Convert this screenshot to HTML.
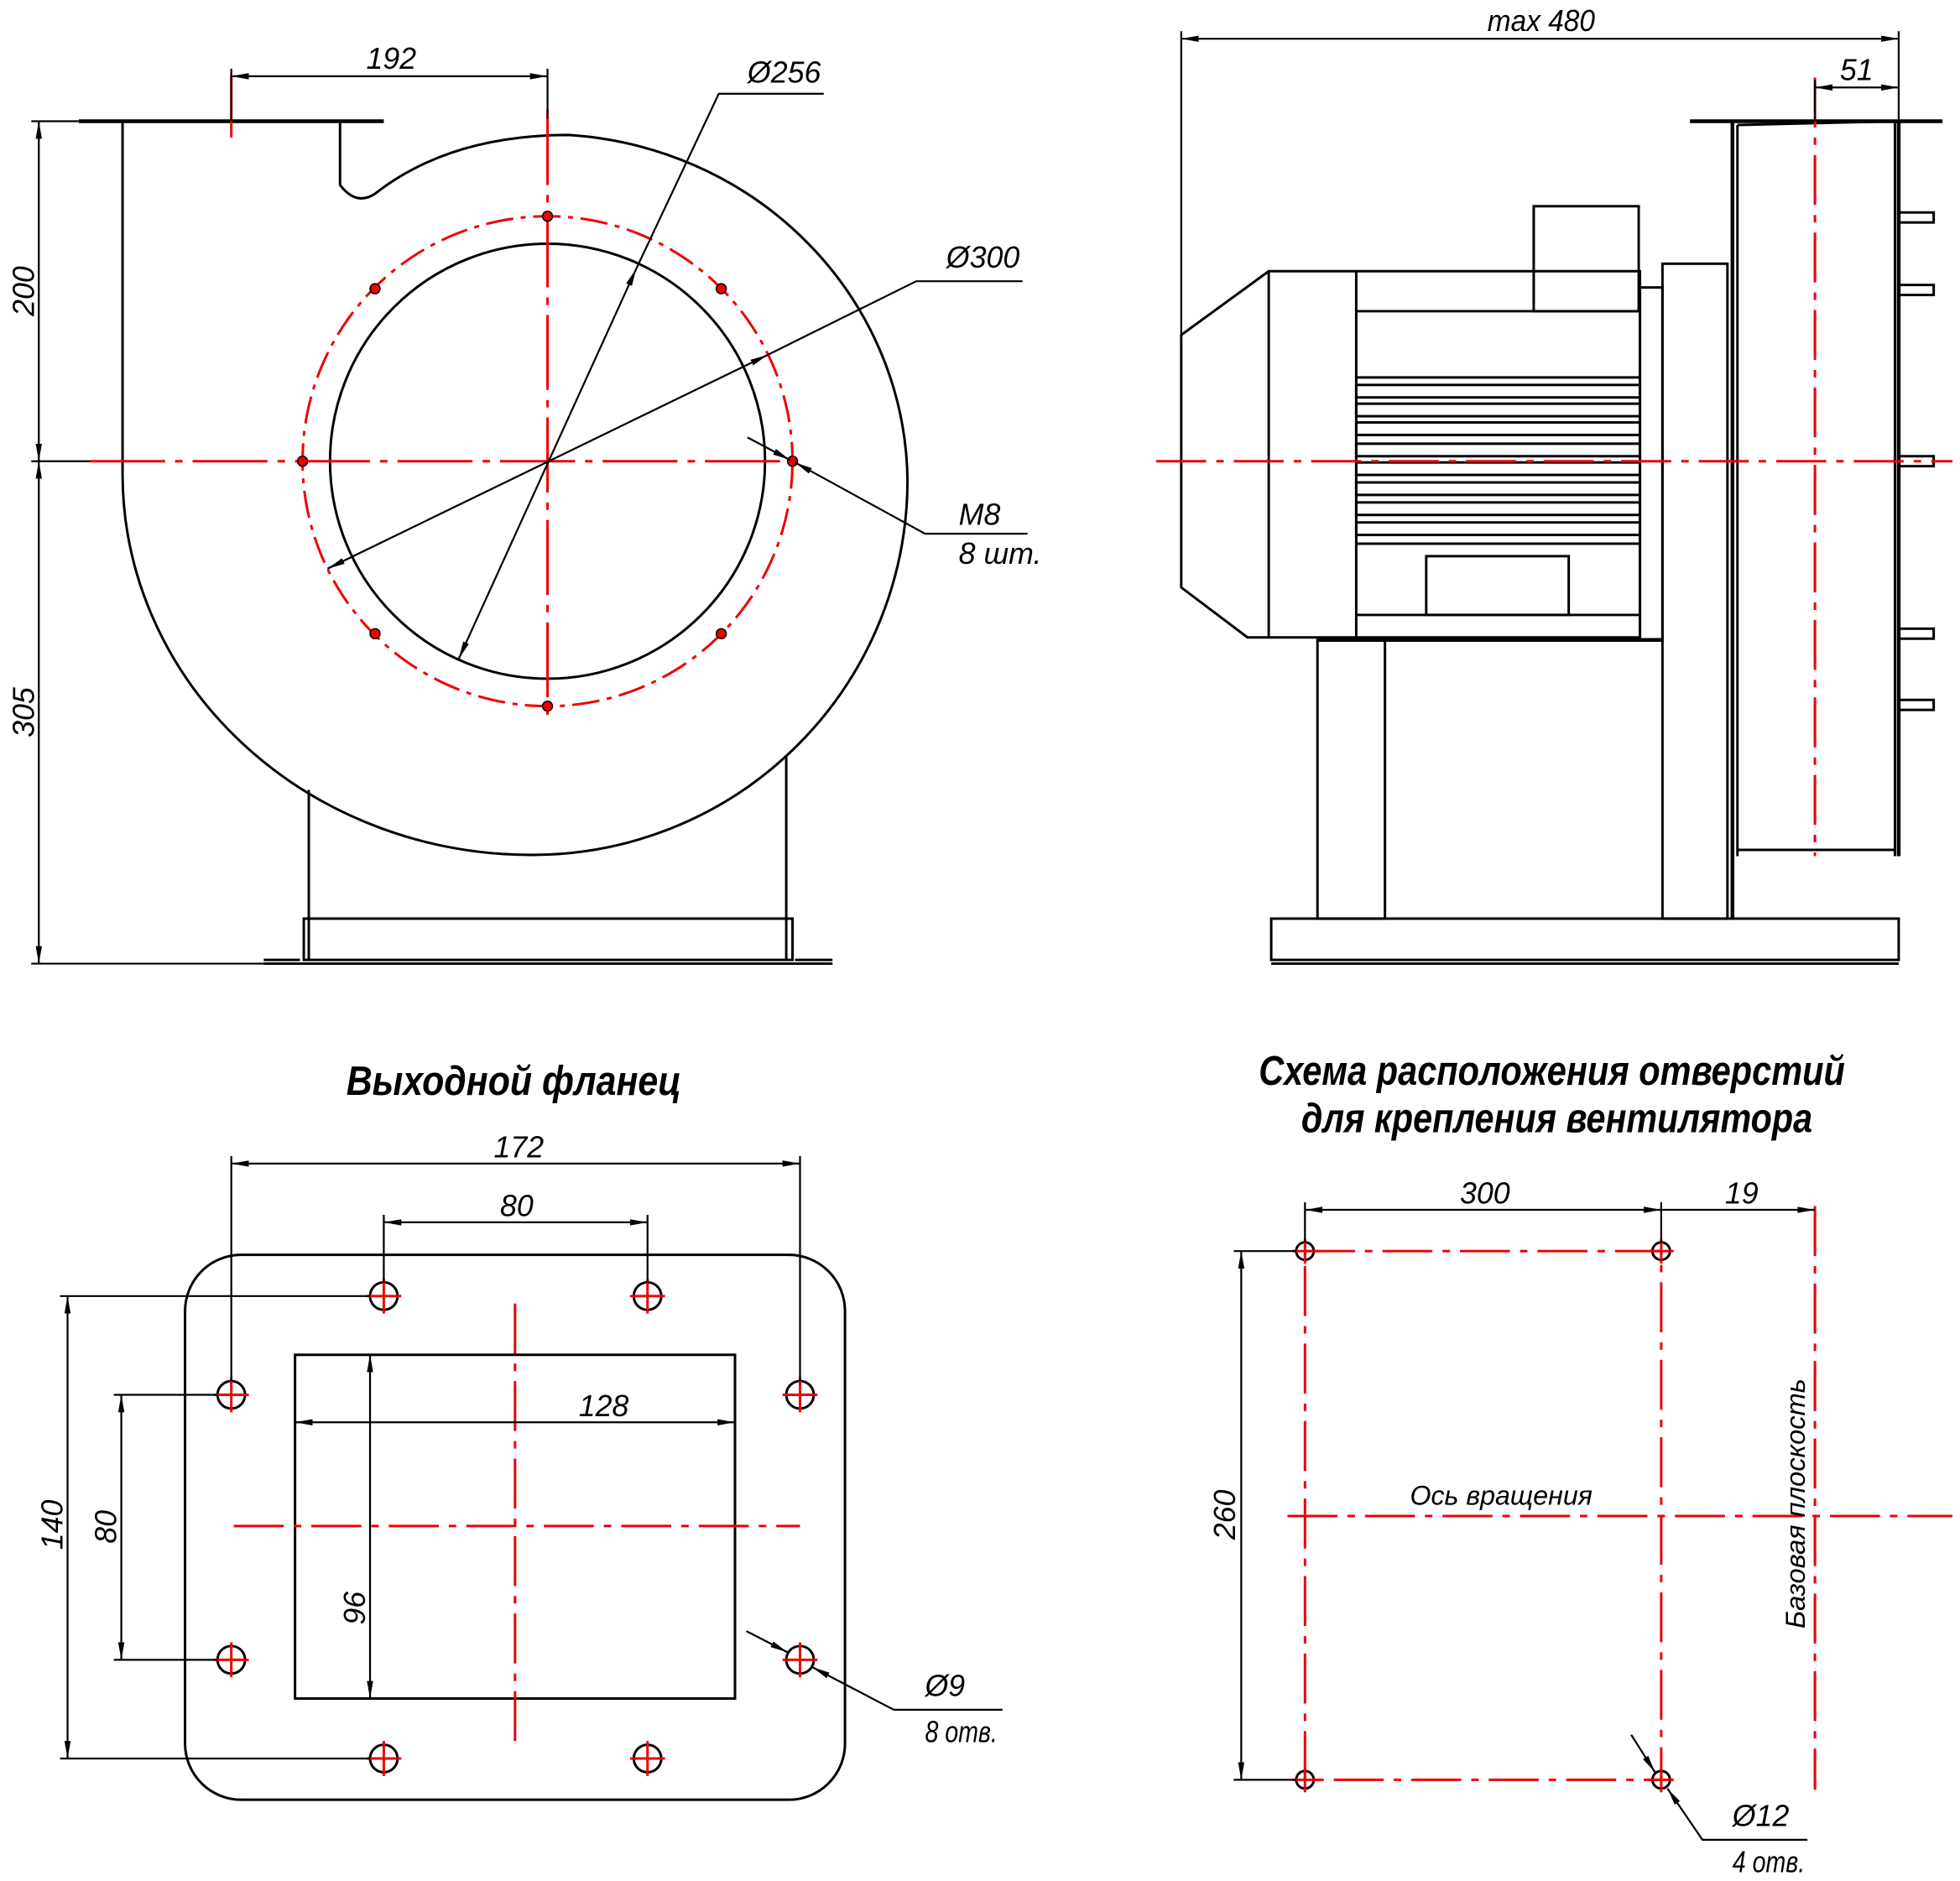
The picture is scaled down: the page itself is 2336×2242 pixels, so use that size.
<!DOCTYPE html>
<html><head><meta charset="utf-8"><style>
html,body{margin:0;padding:0;background:#fff}
svg{display:block}
text{font-family:"Liberation Sans Narrow","Liberation Sans",sans-serif;font-style:italic;fill:#000}
</style></head><body>
<svg width="2336" height="2242" viewBox="0 0 1568 1505" xmlns="http://www.w3.org/2000/svg">
<defs>
<marker id="a" viewBox="0 0 14 6" refX="14" refY="3" markerWidth="14" markerHeight="6" orient="auto-start-reverse" markerUnits="userSpaceOnUse"><path d="M0,0.5 L14,3 L0,5.5 z" fill="#000"/></marker>
</defs>
<g fill="none" stroke="#000" stroke-width="2">
<line x1="63" y1="97" x2="307" y2="97" stroke-width="3"/>
<path d="M98,97 L98,380 A327 305 0 0 0 425,684 A300 300 0 0 0 726,385 A290 280 0 0 0 455,108 Q360,108 300,155 Q285,165 272,148 L272,97"/>
<circle cx="438" cy="369" r="174"/>
<line x1="247" y1="632" x2="247" y2="768"/><line x1="629" y1="604" x2="629" y2="768"/>
<rect x="243" y="735" width="391" height="33"/>
<path d="M211,771 L666,771 M211,768 L240,768 M636,768 L666,768" />
</g>
<g stroke="#e00" stroke-width="2" fill="none">
<circle cx="438" cy="369" r="196" stroke-dasharray="22 6 4 6"/>
<line x1="72" y1="369" x2="635" y2="369" stroke-dasharray="60 8 6 8"/>
<line x1="438" y1="88" x2="438" y2="575" stroke-dasharray="60 8 6 8"/>
<line x1="185" y1="60" x2="185" y2="110"/>
</g>
<g fill="#e00" stroke="#000" stroke-width="1">
<circle cx="438" cy="173" r="4"/><circle cx="438" cy="565" r="4"/><circle cx="242" cy="369" r="4"/><circle cx="634" cy="369" r="4"/>
<circle cx="300" cy="231" r="4"/><circle cx="577" cy="231" r="4"/><circle cx="300" cy="507" r="4"/><circle cx="577" cy="507" r="4"/>
</g>
<g stroke="#000" stroke-width="1.5" fill="none">
<line x1="185" y1="61" x2="438" y2="61" marker-start="url(#a)" marker-end="url(#a)"/>
<line x1="185" y1="55" x2="185" y2="97"/><line x1="438" y1="55" x2="438" y2="95"/>
<line x1="25" y1="97" x2="63" y2="97"/><line x1="25" y1="369" x2="72" y2="369"/><line x1="25" y1="771" x2="211" y2="771"/>
<line x1="31" y1="97" x2="31" y2="369" marker-start="url(#a)" marker-end="url(#a)"/>
<line x1="31" y1="369" x2="31" y2="771" marker-start="url(#a)" marker-end="url(#a)"/>
<line x1="367" y1="527" x2="509" y2="215" marker-start="url(#a)" marker-end="url(#a)"/>
<polyline points="509,215 575,75 659,75"/>
<line x1="262" y1="455" x2="614" y2="284" marker-start="url(#a)" marker-end="url(#a)"/>
<polyline points="614,284 733,225 818,225"/>
<line x1="598" y1="350" x2="632" y2="368" marker-end="url(#a)"/>
<polyline points="636,370 740,427 822,427" marker-start="url(#a)"/>
</g>
<text x="293" y="55" font-size="24">192</text>
<text x="598" y="66" font-size="24">Ø256</text>
<text x="757" y="214" font-size="24">Ø300</text>
<text x="767" y="420" font-size="24">M8</text>
<text x="767" y="451" font-size="24">8 шт.</text>
<text transform="translate(27,253) rotate(-90)" font-size="24">200</text>
<text transform="translate(27,590) rotate(-90)" font-size="24">305</text>

<g fill="none" stroke="#000" stroke-width="2">
<line x1="1352" y1="97" x2="1554" y2="97" stroke-width="3"/>
<line x1="1386" y1="97" x2="1386" y2="735" stroke-width="3"/>
<line x1="1390" y1="100" x2="1390" y2="685"/>
<polyline points="1390,100 1516,97 1516,685"/><line x1="1519" y1="97" x2="1519" y2="685" stroke-width="3"/>
<line x1="1390" y1="680" x2="1516" y2="680"/>
<rect x="1519" y="170" width="28" height="8"/><rect x="1519" y="228" width="28" height="8"/><rect x="1519" y="365" width="28" height="8"/><rect x="1519" y="503" width="28" height="8"/><rect x="1519" y="560" width="28" height="8"/>
<rect x="1330" y="211" width="52" height="524"/>
<rect x="1312" y="230" width="18" height="282"/>
<path d="M945,268 L1015,217 L1312,217 L1312,510 L998,510 L945,470 Z"/>
<line x1="1015" y1="217" x2="1015" y2="510"/><line x1="1085" y1="217" x2="1085" y2="510"/>
<rect x="1227" y="165" width="84" height="84"/>
<line x1="1085" y1="249" x2="1312" y2="249"/>
<line x1="1085" y1="302" x2="1312" y2="302"/>
<rect x="1085" y="308" width="227" height="10"/><rect x="1085" y="323" width="227" height="10"/><rect x="1085" y="338" width="227" height="10"/>
<rect x="1085" y="355" width="227" height="10"/><rect x="1085" y="370" width="227" height="10"/><rect x="1085" y="386" width="227" height="10"/>
<rect x="1085" y="402" width="227" height="10"/><rect x="1085" y="418" width="227" height="10"/>
<line x1="1085" y1="435" x2="1312" y2="435"/>
<rect x="1141" y="445" width="114" height="47"/>
<line x1="1085" y1="492" x2="1312" y2="492"/>
<line x1="1055" y1="512" x2="1330" y2="512" stroke-width="3"/>
<rect x="1054" y="512" width="54" height="223"/>
<rect x="1017" y="735" width="502" height="33"/>
<line x1="1017" y1="771" x2="1519" y2="771"/>
</g>
<g stroke="#e00" stroke-width="2" fill="none" stroke-dasharray="40 8 6 8">
<line x1="925" y1="369" x2="1562" y2="369"/>
<line x1="1452" y1="62" x2="1452" y2="685"/>
</g>
<g stroke="#000" stroke-width="1.5" fill="none">
<line x1="945" y1="31" x2="1519" y2="31" marker-start="url(#a)" marker-end="url(#a)"/>
<line x1="945" y1="25" x2="945" y2="268"/><line x1="1519" y1="25" x2="1519" y2="97"/>
<line x1="1452" y1="70" x2="1519" y2="70" marker-start="url(#a)" marker-end="url(#a)"/>
<line x1="1452" y1="64" x2="1452" y2="97"/>
</g>
<text x="1190" y="25" font-size="24" textLength="86" lengthAdjust="spacingAndGlyphs">max 480</text>
<text x="1472" y="64" font-size="24">51</text>

<text x="277" y="876" font-size="33" font-weight="bold" textLength="268" lengthAdjust="spacingAndGlyphs">Выходной фланец</text>
<g fill="none" stroke="#000" stroke-width="2">
<rect x="148" y="1004" width="528" height="436" rx="45"/>
<rect x="236" y="1084" width="352" height="275"/>
</g>
<g stroke="#e00" stroke-width="2" fill="none" stroke-dasharray="40 8 6 8">
<line x1="187" y1="1221" x2="640" y2="1221"/>
<line x1="412" y1="1043" x2="412" y2="1400"/>
</g>
<g stroke="#000" stroke-width="2" fill="none">
<circle cx="307" cy="1037" r="11"/><circle cx="518" cy="1037" r="11"/><circle cx="185" cy="1116" r="11"/><circle cx="640" cy="1116" r="11"/>
<circle cx="185" cy="1328" r="11"/><circle cx="640" cy="1328" r="11"/><circle cx="307" cy="1407" r="11"/><circle cx="518" cy="1407" r="11"/>
</g>
<g stroke="#e00" stroke-width="2">
<path d="M293,1037h28M307,1023v28M504,1037h28M518,1023v28M171,1116h28M185,1102v28M626,1116h28M640,1102v28M171,1328h28M185,1314v28M626,1328h28M640,1314v28M293,1407h28M307,1393v28M504,1407h28M518,1393v28"/>
</g>
<g stroke="#000" stroke-width="1.5" fill="none">
<line x1="185" y1="931" x2="640" y2="931" marker-start="url(#a)" marker-end="url(#a)"/>
<line x1="185" y1="925" x2="185" y2="1105"/><line x1="640" y1="925" x2="640" y2="1105"/>
<line x1="307" y1="978" x2="518" y2="978" marker-start="url(#a)" marker-end="url(#a)"/>
<line x1="307" y1="972" x2="307" y2="1026"/><line x1="518" y1="972" x2="518" y2="1026"/>
<line x1="236" y1="1138" x2="588" y2="1138" marker-start="url(#a)" marker-end="url(#a)"/>
<line x1="296" y1="1084" x2="296" y2="1359" marker-start="url(#a)" marker-end="url(#a)"/>
<line x1="54" y1="1037" x2="54" y2="1407" marker-start="url(#a)" marker-end="url(#a)"/>
<line x1="48" y1="1037" x2="296" y2="1037"/><line x1="48" y1="1407" x2="296" y2="1407"/>
<line x1="97" y1="1116" x2="97" y2="1328" marker-start="url(#a)" marker-end="url(#a)"/>
<line x1="91" y1="1116" x2="174" y2="1116"/><line x1="91" y1="1328" x2="174" y2="1328"/>
<line x1="597" y1="1305" x2="630" y2="1322" marker-end="url(#a)"/>
<polyline points="650,1334 715,1368 802,1368" marker-start="url(#a)"/>
</g>
<text x="395" y="926" font-size="24">172</text>
<text x="400" y="973" font-size="24">80</text>
<text x="463" y="1133" font-size="24">128</text>
<text transform="translate(292,1300) rotate(-90)" font-size="24">96</text>
<text transform="translate(50,1240) rotate(-90)" font-size="24">140</text>
<text transform="translate(93,1235) rotate(-90)" font-size="24">80</text>
<text x="740" y="1357" font-size="24">Ø9</text>
<text x="740" y="1394" font-size="24" textLength="58" lengthAdjust="spacingAndGlyphs">8 отв.</text>

<text x="1007" y="868" font-size="33" font-weight="bold" textLength="469" lengthAdjust="spacingAndGlyphs">Схема расположения отверстий</text>
<text x="1041" y="906" font-size="33" font-weight="bold" textLength="409" lengthAdjust="spacingAndGlyphs">для крепления вентилятора</text>
<g stroke="#e00" stroke-width="2" fill="none" stroke-dasharray="40 8 6 8">
<rect x="1044" y="1001" width="285" height="423"/>
<line x1="1030" y1="1213" x2="1562" y2="1213"/>
<line x1="1452" y1="965" x2="1452" y2="1432"/>
</g>
<g stroke="#000" stroke-width="2" fill="none">
<circle cx="1044" cy="1001" r="7"/><circle cx="1329" cy="1001" r="7"/><circle cx="1044" cy="1424" r="7"/><circle cx="1329" cy="1424" r="7"/>
</g>
<g stroke="#e00" stroke-width="2"><path d="M1034,1001h20M1044,991v20M1319,1001h20M1329,991v20M1034,1424h20M1044,1414v20M1319,1424h20M1329,1414v20"/></g>
<g stroke="#000" stroke-width="1.5" fill="none">
<line x1="1044" y1="968" x2="1329" y2="968" marker-start="url(#a)" marker-end="url(#a)"/>
<line x1="1329" y1="968" x2="1452" y2="968" marker-end="url(#a)"/>
<line x1="1044" y1="962" x2="1044" y2="994"/><line x1="1329" y1="962" x2="1329" y2="994"/>
<line x1="993" y1="1001" x2="993" y2="1424" marker-start="url(#a)" marker-end="url(#a)"/>
<line x1="987" y1="1001" x2="1037" y2="1001"/><line x1="987" y1="1424" x2="1037" y2="1424"/>
<line x1="1305" y1="1388" x2="1324" y2="1418" marker-end="url(#a)"/>
<polyline points="1334,1431 1362,1472 1446,1472" marker-start="url(#a)"/>
</g>
<text x="1168" y="963" font-size="24">300</text>
<text x="1380" y="963" font-size="24">19</text>
<text transform="translate(988,1232) rotate(-90)" font-size="24">260</text>
<text x="1128" y="1204" font-size="22" textLength="146" lengthAdjust="spacingAndGlyphs">Ось вращения</text>
<text transform="translate(1444,1303) rotate(-90)" font-size="22" textLength="200" lengthAdjust="spacingAndGlyphs">Базовая  плоскость</text>
<text x="1386" y="1461" font-size="24">Ø12</text>
<text x="1386" y="1498" font-size="24" textLength="58" lengthAdjust="spacingAndGlyphs">4 отв.</text>
</svg>
</body></html>
